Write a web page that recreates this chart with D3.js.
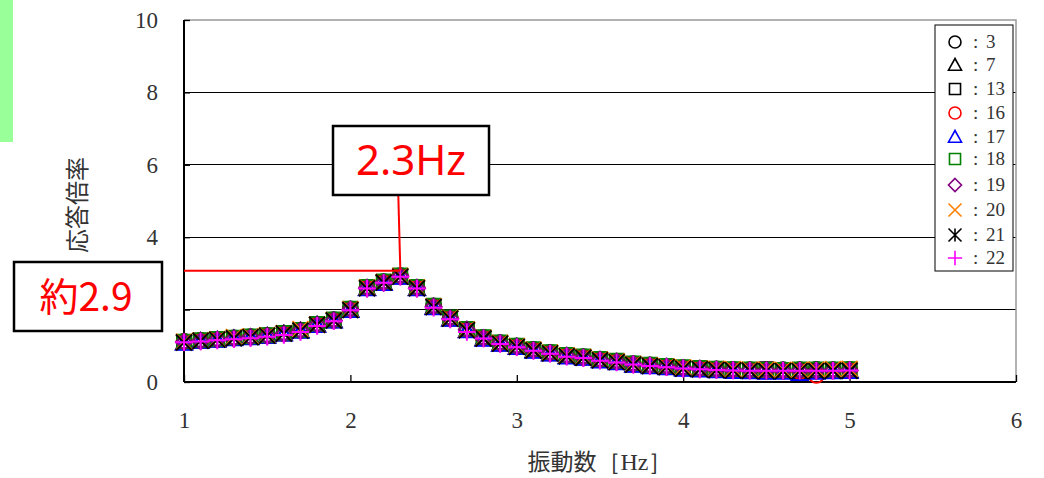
<!DOCTYPE html>
<html><head><meta charset="utf-8">
<script src="https://cdn.jsdelivr.net/npm/d3@7"></script>
<style>body{margin:0;background:#fff}svg{display:block}</style></head>
<body>
<svg id="c" width="1044" height="478"></svg>
<script>
// ---------- data ----------
const freq = [1.0,1.1,1.2,1.3,1.4,1.5,1.6,1.7,1.8,1.9,2.0,2.1,2.2,2.3,2.4,2.5,2.6,2.7,2.8,2.9,3.0,3.1,3.2,3.3,3.4,3.5,3.6,3.7,3.8,3.9,4.0,4.1,4.2,4.3,4.4,4.5,4.6,4.7,4.8,4.9,5.0];
const s3  = [1.12,1.15,1.18,1.22,1.25,1.29,1.35,1.43,1.60,1.72,2.02,2.62,2.77,2.94,2.62,2.10,1.78,1.46,1.23,1.09,1.00,0.90,0.82,0.74,0.70,0.63,0.58,0.51,0.47,0.44,0.40,0.38,0.36,0.35,0.34,0.33,0.34,0.34,0.35,0.34,0.35];
const s7  = [1.08,1.13,1.16,1.20,1.23,1.27,1.33,1.41,1.57,1.69,1.98,2.58,2.73,2.90,2.58,2.06,1.74,1.42,1.19,1.05,0.96,0.86,0.78,0.70,0.66,0.59,0.54,0.47,0.43,0.40,0.36,0.34,0.32,0.30,0.29,0.28,0.29,0.28,0.29,0.30,0.31];
const s13 = [1.10,1.14,1.18,1.21,1.25,1.28,1.34,1.43,1.58,1.71,2.01,2.61,2.76,2.93,2.61,2.09,1.77,1.45,1.22,1.08,0.99,0.89,0.81,0.73,0.69,0.62,0.57,0.50,0.46,0.43,0.39,0.37,0.35,0.34,0.34,0.36,0.33,0.32,0.31,0.33,0.33];
const s16 = [1.11,1.14,1.17,1.21,1.24,1.28,1.34,1.42,1.59,1.70,2.00,2.60,2.75,2.92,2.60,2.08,1.76,1.44,1.21,1.07,0.98,0.88,0.80,0.72,0.68,0.61,0.56,0.49,0.45,0.42,0.38,0.36,0.34,0.33,0.32,0.31,0.30,0.29,0.18,0.30,0.32];
const s17 = [1.07,1.12,1.15,1.19,1.22,1.26,1.32,1.40,1.56,1.68,1.97,2.57,2.72,2.89,2.57,2.05,1.73,1.41,1.18,1.04,0.95,0.85,0.77,0.69,0.65,0.58,0.53,0.46,0.42,0.39,0.35,0.33,0.31,0.29,0.28,0.27,0.27,0.23,0.27,0.28,0.29];
const s18 = [1.12,1.16,1.19,1.23,1.26,1.30,1.36,1.44,1.61,1.73,2.03,2.63,2.78,2.95,2.63,2.11,1.79,1.47,1.24,1.10,1.01,0.91,0.83,0.75,0.71,0.64,0.59,0.52,0.48,0.45,0.41,0.39,0.37,0.36,0.35,0.34,0.34,0.35,0.35,0.35,0.36];
const s19 = [1.10,1.13,1.17,1.20,1.24,1.27,1.33,1.42,1.58,1.70,2.00,2.59,2.74,2.92,2.59,2.08,1.75,1.44,1.21,1.07,0.97,0.88,0.80,0.72,0.67,0.61,0.56,0.49,0.45,0.42,0.38,0.36,0.34,0.33,0.32,0.32,0.31,0.31,0.31,0.32,0.32];
const s20 = [1.11,1.15,1.18,1.24,1.26,1.29,1.35,1.46,1.58,1.71,2.01,2.61,2.76,2.93,2.61,2.09,1.77,1.45,1.22,1.08,0.99,0.89,0.81,0.73,0.69,0.62,0.57,0.50,0.46,0.43,0.40,0.37,0.36,0.35,0.34,0.34,0.33,0.33,0.34,0.35,0.36];
const s21 = [1.09,1.14,1.17,1.21,1.24,1.28,1.34,1.42,1.58,1.70,1.99,2.59,2.75,2.91,2.59,2.07,1.75,1.43,1.20,1.06,0.97,0.87,0.79,0.71,0.67,0.60,0.55,0.48,0.44,0.41,0.37,0.35,0.33,0.32,0.31,0.30,0.30,0.30,0.30,0.31,0.31];
const s22 = [1.10,1.12,1.15,1.18,1.21,1.25,1.30,1.38,1.55,1.68,1.98,2.58,2.74,2.91,2.58,2.05,1.73,1.38,1.20,1.05,0.96,0.86,0.78,0.70,0.66,0.59,0.54,0.48,0.44,0.41,0.37,0.35,0.33,0.32,0.31,0.31,0.31,0.31,0.31,0.31,0.32];

const seriesNames = ["3","7","13","16","17","18","19","20","21","22"];
const seriesValues = [s3,s7,s13,s16,s17,s18,s19,s20,s21,s22];
const seriesShapes = ["circle","triangle","square","circle","triangle","square","diamond","x","asterisk","plus"];
const seriesColors = ["#000000","#000000","#000000","#ff0000","#0000ff","#008000","#800080","#ff7f00","#000000","#ff00ff"];

const xTicks = [1,2,3,4,5,6];
const yTicks = [0,2,4,6,8,10];
const xTitleJa = "振動数", xTitleUnit = "［Hz］";
const yTitle = "応答倍率";
const peakFreq = 2.3, peakLevel = 3.07;
const peakLabel = "2.3Hz", levelLabel = "約2.9";

// ---------- layout ----------
const svg = d3.select("#c");
const L = 184, R = 1016, T = 20, B = 382;
const x = d3.scaleLinear().domain([1,6]).range([L,R]);
const y = d3.scaleLinear().domain([0,10]).range([B,T]);

// green side bar
svg.append("rect").attr("x",0).attr("y",0).attr("width",13).attr("height",142).attr("fill","#99ff99");

// gridlines
svg.append("g").selectAll("line").data(yTicks.filter(d=>d>0 && d<10)).join("line")
  .attr("x1",L).attr("x2",R).attr("y1",d=>y(d)).attr("y2",d=>y(d))
  .attr("stroke","#000").attr("stroke-width",1).attr("shape-rendering","crispEdges");
// top & right border
svg.append("path").attr("d",`M${L},${T}H${R}V${B}`).attr("fill","none")
  .attr("stroke","#999").attr("stroke-width",1.5);

// axes
const serif = "'Liberation Serif','DejaVu Serif',serif";
const yAxis = svg.append("g").attr("transform",`translate(${L},0)`)
  .call(d3.axisLeft(y).tickValues(yTicks).tickSize(-6).tickPadding(26).tickFormat(d3.format("d")));
const xAxis = svg.append("g").attr("transform",`translate(0,${B})`)
  .call(d3.axisBottom(x).tickValues(xTicks).tickSize(-7).tickPadding(30).tickFormat(d3.format("d")));
[yAxis,xAxis].forEach(g=>{
  g.select(".domain").attr("stroke","#000").attr("stroke-width",2);
  g.selectAll(".tick line").attr("stroke","#000").attr("stroke-width",1.3);
  g.selectAll("text").attr("font-family",serif).attr("font-size",23).attr("font-weight","normal").attr("fill","#333");
});
xAxis.select(".domain").attr("d",`M${L},0H${R}`);
yAxis.select(".domain").attr("d",`M0,${B}V${T}`);

// titles
const cjk = "'Noto Sans CJK JP','Noto Sans',sans-serif";
const xt = svg.append("text").attr("x",600).attr("y",470).attr("text-anchor","middle")
  .attr("font-family",cjk).attr("font-size",23).attr("fill","#333");
xt.append("tspan").text(xTitleJa);
xt.append("tspan").attr("font-family",serif).attr("font-size",24).text(xTitleUnit);
svg.append("text").attr("transform","translate(86,205) rotate(-90)").attr("text-anchor","middle")
  .attr("font-family",cjk).attr("font-size",24).attr("fill","#333").text(yTitle);

// marker paths
function shape(type, s){
  const h = s/2;
  switch(type){
    case "circle": return d3.symbol(d3.symbolCircle, Math.PI*h*h*0.85)();
    case "triangle": return `M0,${-h}L${h},${h*0.8}L${-h},${h*0.8}Z`;
    case "square": return `M${-h*0.85},${-h*0.85}H${h*0.85}V${h*0.85}H${-h*0.85}Z`;
    case "diamond": return `M0,${-h}L${h},0L0,${h}L${-h},0Z`;
    case "x": return `M${-h},${-h}L${h},${h}M${h},${-h}L${-h},${h}`;
    case "asterisk": return `M${-h},${-h}L${h},${h}M${h},${-h}L${-h},${h}M0,${-h}V${h}`;
    case "plus": return `M${-h*1.1},0H${h*1.1}M0,${-h*1.1}V${h*1.1}`;
  }
}

// data markers
const gData = svg.append("g");
seriesValues.forEach((vals,i)=>{
  gData.append("g").selectAll("path").data(vals.map((v,j)=>[freq[j],v])).join("path")
    .attr("transform",d=>`translate(${x(d[0])},${y(d[1])})`)
    .attr("d",shape(seriesShapes[i],16))
    .attr("fill","none").attr("stroke",seriesColors[i]).attr("stroke-width",2);
});

// annotations
svg.append("line").attr("x1",x(1)).attr("x2",x(peakFreq)).attr("y1",y(peakLevel)).attr("y2",y(peakLevel))
  .attr("stroke","#ff0000").attr("stroke-width",2);
svg.append("line").attr("x1",x(peakFreq)-2).attr("y1",196).attr("x2",x(peakFreq)).attr("y2",y(peakLevel)-1)
  .attr("stroke","#ff0000").attr("stroke-width",2);
svg.append("rect").attr("x",333).attr("y",126).attr("width",156).attr("height",69)
  .attr("fill","#fff").attr("stroke","#000").attr("stroke-width",2.5);
svg.append("text").attr("x",411).attr("y",175).attr("text-anchor","middle")
  .attr("font-family","'Noto Sans','DejaVu Sans',sans-serif").attr("font-size",42).attr("fill","#ff0000").text(peakLabel);
svg.append("rect").attr("x",14).attr("y",262).attr("width",148).attr("height",69)
  .attr("fill","#fff").attr("stroke","#000").attr("stroke-width",2.5);
svg.append("text").attr("x",86).attr("y",311).attr("text-anchor","middle")
  .attr("font-family",cjk).attr("font-size",39).attr("fill","#ff0000").text(levelLabel);

// legend
const lg = svg.append("g");
lg.append("rect").attr("x",935).attr("y",25).attr("width",78).attr("height",246)
  .attr("fill","#fff").attr("stroke","#000").attr("stroke-width",1);
const legY = [42,65,89,113,137,159,185,210,235,258];
seriesNames.forEach((n,i)=>{
  lg.append("path").attr("transform",`translate(955,${legY[i]})`).attr("d",shape(seriesShapes[i],13))
    .attr("fill","none").attr("stroke",seriesColors[i]).attr("stroke-width",1.6);
  lg.append("text").attr("x",973).attr("y",legY[i]+6).attr("font-family",serif).attr("font-size",19).attr("fill","#333").text(":");
  lg.append("text").attr("x",986).attr("y",legY[i]+6).attr("font-family",serif).attr("font-size",19).attr("fill","#333").text(n);
});
</script>
</body></html>
